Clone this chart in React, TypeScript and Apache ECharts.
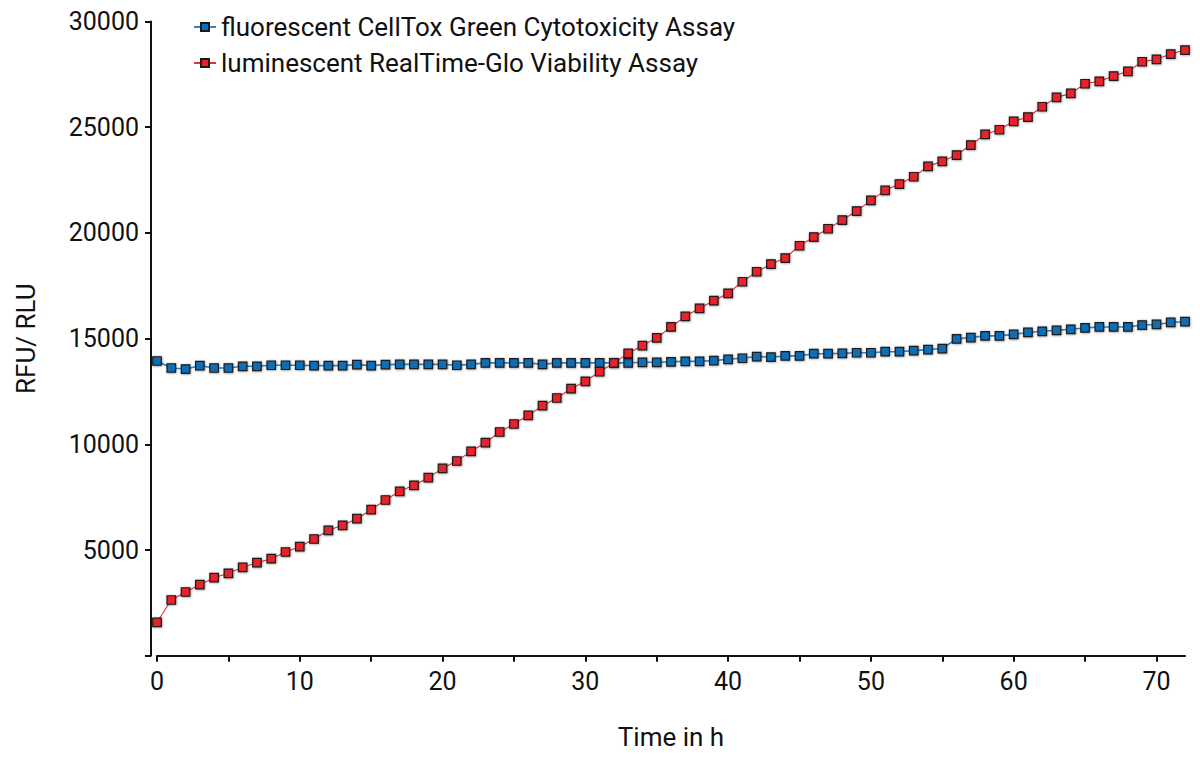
import React, { useEffect, useRef } from "react";
import * as echarts from "echarts";

const hours = [
  0, 1, 2, 3, 4, 5, 6, 7, 8, 9, 10, 11, 12, 13, 14, 15, 16, 17, 18, 19, 20, 21, 22, 23, 24,
  25, 26, 27, 28, 29, 30, 31, 32, 33, 34, 35, 36, 37, 38, 39, 40, 41, 42, 43, 44, 45, 46, 47,
  48, 49, 50, 51, 52, 53, 54, 55, 56, 57, 58, 59, 60, 61, 62, 63, 64, 65, 66, 67, 68, 69, 70,
  71, 72,
];

const cellToxGreen = [
  13940, 13610, 13560, 13720, 13610, 13610, 13690, 13690, 13740, 13740, 13740, 13720, 13720,
  13720, 13770, 13720, 13770, 13780, 13780, 13780, 13780, 13740, 13780, 13850, 13850, 13850,
  13850, 13780, 13850, 13850, 13850, 13850, 13850, 13850, 13880, 13880, 13900, 13925, 13925,
  13960, 14020, 14070, 14150, 14120, 14185, 14185, 14285, 14285, 14300, 14330, 14330, 14380,
  14380, 14430, 14480, 14530, 14985, 15050, 15130, 15130, 15200, 15290, 15345, 15390, 15440,
  15505, 15550, 15550, 15550, 15640, 15670, 15765, 15800,
];

const realTimeGlo = [
  1580, 2635, 3013, 3358, 3690, 3897, 4181, 4400, 4589, 4905, 5156, 5520, 5930, 6168, 6480,
  6906, 7365, 7776, 8060, 8420, 8862, 9209, 9667, 10076, 10581, 10960, 11370, 11825, 12189,
  12629, 12979, 13433, 13850, 14300, 14670, 15035, 15550, 16053, 16432, 16792, 17142, 17690,
  18163, 18527, 18811, 19393, 19804, 20197, 20608, 21034, 21540, 22013, 22311, 22656, 23148,
  23384, 23683, 24156, 24662, 24880, 25277, 25481, 25967, 26412, 26601, 27056, 27170, 27420,
  27642, 28096, 28210, 28461, 28650,
];

const seriesNames = [
  "fluorescent CellTox Green Cytotoxicity Assay",
  "luminescent RealTime-Glo Viability Assay",
];

const FONT = "Roboto";

export default function App() {
  const ref = useRef<HTMLDivElement>(null);
  useEffect(() => {
    document.body.style.margin = "0";
    if (!ref.current) return;
    const chart = echarts.init(ref.current, null, { renderer: "svg" });
    const pairs = (vals: number[]) => hours.map((h, i) => [h, vals[i]]);
    const markerShadow = {
      shadowBlur: 2,
      shadowColor: "rgba(0,0,0,0.45)",
      shadowOffsetX: 0.5,
      shadowOffsetY: 0.5,
    };
    chart.setOption({
      animation: false,
      backgroundColor: "#fff",
      textStyle: { fontFamily: FONT },
      grid: { left: 157, right: 15, top: 21.5, bottom: 111.3, containLabel: false },
      legend: {
        left: 188,
        top: 8,
        orient: "vertical",
        itemWidth: 22,
        itemHeight: 10,
        itemGap: 8,
        textStyle: {
          fontFamily: FONT,
          fontSize: 26,
          lineHeight: 28,
          color: "#111",
        },
        data: seriesNames,
      },
      xAxis: {
        type: "value",
        min: 0,
        max: 72,
        interval: 5,
        name: "Time in h",
        nameLocation: "middle",
        nameGap: 68,
        nameTextStyle: { fontFamily: FONT, fontSize: 26, color: "#111" },
        axisLine: { show: true, onZero: false, lineStyle: { color: "#111", width: 2 } },
        axisTick: { show: true, length: 6, lineStyle: { color: "#111", width: 2 } },
        axisLabel: {
          fontFamily: FONT,
          fontSize: 25,
          color: "#111",
          margin: 13,
          showMaxLabel: false,
          formatter: (v: number) => (v % 10 === 0 ? String(v) : ""),
        },
        splitLine: { show: false },
      },
      yAxis: {
        type: "value",
        min: 0,
        max: 30000,
        interval: 5000,
        offset: 6,
        name: "RFU/ RLU",
        nameLocation: "middle",
        nameGap: 112,
        nameRotate: 90,
        nameTextStyle: { fontFamily: FONT, fontSize: 26, color: "#111" },
        axisLine: { show: true, onZero: false, lineStyle: { color: "#111", width: 2 } },
        axisTick: { show: true, length: 6, lineStyle: { color: "#111", width: 2 } },
        axisLabel: {
          fontFamily: FONT,
          fontSize: 25,
          color: "#111",
          margin: 12,
          formatter: (v: number) => (v === 0 ? "" : String(v)),
        },
        splitLine: { show: false },
      },
      series: [
        {
          name: seriesNames[0],
          type: "line",
          data: pairs(cellToxGreen),
          symbol: "rect",
          symbolSize: 8.5,
          lineStyle: { color: "#2f86cc", width: 1.6 },
          itemStyle: { color: "#0f6db5", borderColor: "#1a1a1a", borderWidth: 1.2, ...markerShadow },
        },
        {
          name: seriesNames[1],
          type: "line",
          data: pairs(realTimeGlo),
          symbol: "rect",
          symbolSize: 8.5,
          lineStyle: { color: "#ec2b35", width: 1.1 },
          itemStyle: { color: "#e8202a", borderColor: "#1a1a1a", borderWidth: 1.2, ...markerShadow },
        },
      ],
    });
    return () => chart.dispose();
  }, []);
  return <div ref={ref} style={{ width: 1200, height: 767 }} />;
}
